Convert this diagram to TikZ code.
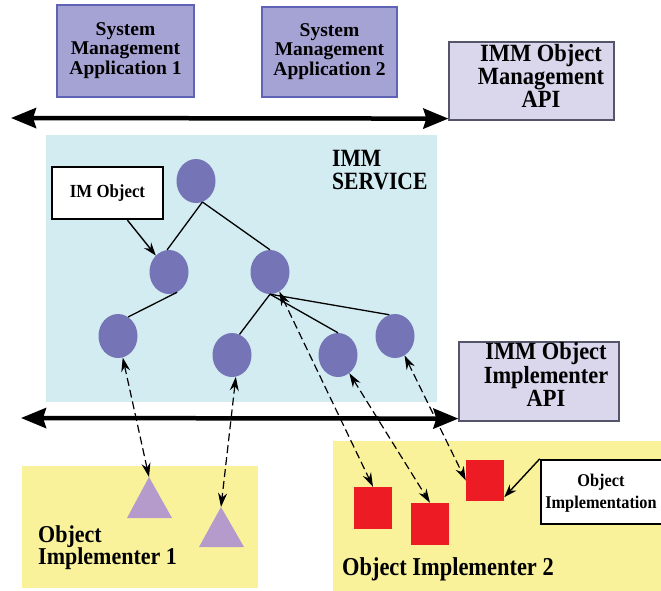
\documentclass[tikz,border=0pt]{standalone}
\usepackage{fontspec}
\setmainfont{Liberation Serif}
\usepackage{graphicx}
\usetikzlibrary{arrows.meta,shapes.geometric}

\definecolor{appfill}{HTML}{A5A3D4}
\definecolor{appedge}{HTML}{5F63B5}
\definecolor{apifill}{HTML}{DAD6EC}
\definecolor{apiedge}{HTML}{55556A}
\definecolor{svcfill}{HTML}{D2ECF2}
\definecolor{objfill}{HTML}{7474B6}
\definecolor{implfill}{HTML}{F9F29B}
\definecolor{redobj}{HTML}{ED1C24}
\definecolor{trifill}{HTML}{B49BCB}

% stretched multi-line label: #1 vertical factor, #2 column spec, #3 lines
\newcommand\vtext[3]{\scalebox{1}[#1]{\begin{tabular}{@{}#2@{}}#3\end{tabular}}}
\newcommand\fsz[2]{\fontsize{#1}{#2}\selectfont\bfseries}

\begin{document}
\begin{tikzpicture}[x=1pt,y=-1pt,
  appbox/.style={draw=appedge, line width=1.2pt, fill=appfill, inner sep=0pt},
  apibox/.style={draw=apiedge, line width=1.2pt, fill=apifill, inner sep=0pt},
  notebox/.style={draw=black, line width=2.4pt, fill=white, inner sep=0pt},
  imobj/.style={ellipse, fill=objfill, minimum width=39pt, minimum height=44pt, inner sep=0pt},
  redbox/.style={fill=redobj, minimum width=38pt, minimum height=42pt, inner sep=0pt},
  area/.style={inner sep=0pt},
  treeline/.style={line width=1.3pt},
  busarrow/.style={line width=4.5pt, {Stealth[length=25pt,width=20pt,inset=3pt]}-{Stealth[length=25pt,width=20pt,inset=3pt]}},
  linkarrow/.style={line width=1.2pt, dash pattern=on 8pt off 4pt, {Stealth[length=14pt,width=9pt]}-{Stealth[length=14pt,width=9pt]}},
  pointer/.style={line width=1.4pt, -{Stealth[length=13pt,width=9pt]}},
]
\useasboundingbox (0,0) rectangle (661,590);

% implementer areas
\node[area, fill=implfill, minimum width=236pt, minimum height=122pt] (oi1) at (140,527) {};
\node[area, fill=implfill, minimum width=330pt, minimum height=150pt] (oi2) at (498,516) {};

% service area
\node[area, fill=svcfill, minimum width=391pt, minimum height=267pt] (svc) at (241.5,268.5) {};
\node[anchor=west, inner sep=0pt, font=\fsz{21.6}{18.5}] (svclabel) at (332,173)
  {\vtext{1.15}{l}{IMM\\SERVICE}};

% application boxes
\node[appbox, minimum width=137pt, minimum height=92pt, font=\fsz{19.5}{19.5}] (sma1) at (125.5,51)
  {\begin{tabular}{@{}c@{}}System\\Management\\Application 1\end{tabular}};
\node[appbox, minimum width=135pt, minimum height=90pt, font=\fsz{19.5}{19.5}] (sma2) at (329.5,52)
  {\begin{tabular}{@{}c@{}}System\\Management\\Application 2\end{tabular}};

% API boxes
\node[apibox, minimum width=165pt, minimum height=78pt] (mgmt) at (531.5,81) {};
\node[inner sep=0pt, font=\fsz{22.5}{19.5}] (mgmtlabel) at (541,79)
  {\vtext{1.1}{c}{IMM Object\\Management\\API}};
\node[apibox, minimum width=160pt, minimum height=79pt] (impl) at (539,381.5) {};
\node[inner sep=0pt, font=\fsz{22.4}{20}] (impllabel) at (546,378)
  {\vtext{1.1}{c}{IMM Object\\Implementer\\API}};

% object tree
\node[imobj] (root) at (196,181) {};
\node[imobj] (l1a) at (169,272) {};
\node[imobj] (l1b) at (270,272) {};
\node[imobj] (l2a) at (118,336) {};
\node[imobj] (l2b) at (232,355) {};
\node[imobj] (l2c) at (338,355) {};
\node[imobj] (l2d) at (395,336) {};
\draw[treeline] (root.-73) -- (l1a.95);
\draw[treeline] (root.-73) -- (l1b.north);
\draw[treeline] (l1a.-68) -- (l2a.62);
\draw[treeline] (l1b.south) -- (l2b.70);
\draw[treeline] (l1b.south) -- (l2c.north);
\draw[treeline] (l1b.south) -- (l2d.105);

% callout for a managed object
\node[notebox, minimum width=111pt, minimum height=52pt, font=\fsz{16.8}{16}] (imo) at (107.5,193)
  {\scalebox{1}[1.1]{IM Object}};
\draw[pointer] ([xshift=20pt]imo.south) -- (l1a);

% object implementations
\coordinate (t1) at (149,477);
\fill[trifill] (t1) -- (172,518) -- (127,518) -- cycle;
\coordinate (t2) at (221,507);
\fill[trifill] (t2) -- (244,547) -- (199,547) -- cycle;
\node[redbox] (r1) at (373,508) {};
\node[redbox] (r2) at (430,524) {};
\node[redbox, minimum height=41pt] (r3) at (485,480.5) {};

\node[notebox, minimum width=127pt, minimum height=64pt] (oibox) at (604.5,492) {};
\node[inner sep=0pt, font=\fsz{16.3}{20.5}] (oilabel) at (601,493)
  {\vtext{1.1}{c}{Object\\Implementation}};
\draw[pointer] (oibox.north west) -- ([yshift=4pt]r3.south east);

\node[anchor=west, inner sep=0pt, font=\fsz{22}{18}] (oi1label) at (38,548)
  {\vtext{1.1}{l}{Object\\Implementer 1}};
\node[anchor=west, inner sep=0pt, font=\fsz{22.4}{20}] (oi2label) at (342,569)
  {\scalebox{1}[1.15]{Object Implementer 2}};

% links between managed objects and their implementations
\draw[linkarrow] (l2a) -- (t1);
\draw[linkarrow] (l2b.-80) -- (t2);
\draw[linkarrow] (l1b) -- (r1.north);
\draw[linkarrow] (l2c) -- (r2.north);
\draw[linkarrow] (l2d) -- (r3.west);

% API buses
\coordinate (mgmtbusL) at (11,118);
\draw[busarrow] (mgmtbusL) -- ([yshift=2pt]mgmt.south west);
\coordinate (implbusL) at (21,418);
\draw[busarrow] (implbusL) -- ([yshift=3pt]impl.south west);
\end{tikzpicture}
\end{document}
